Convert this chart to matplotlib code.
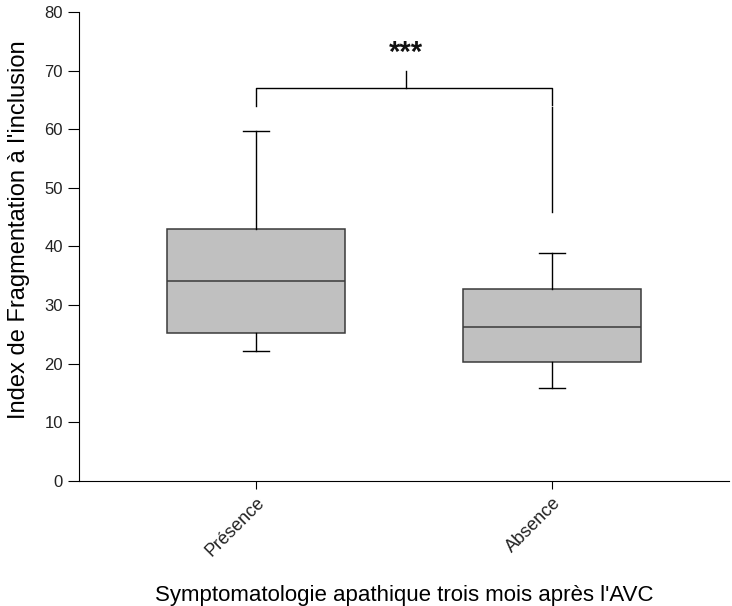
import matplotlib.pyplot as plt

plt.rcParams['font.family'] = ['Liberation Sans', 'DejaVu Sans']

# groups and box statistics
groups = ['Présence', 'Absence']
whisker_low = [22.2, 15.9]
q1 = [25.3, 20.3]
median = [34.1, 26.3]
q3 = [43.0, 32.8]
whisker_high = [59.7, 38.9]

# significance bracket
bracket_y = 67.0
left_leg_end = 63.9
right_leg_end = 45.9
star_tick_top = 70.0
star_label = '***'

fig = plt.figure(figsize=(7.32, 6.06), dpi=100)
ax = fig.add_axes([79 / 732, 1 - 481 / 606, (729 - 79) / 732, (481 - 12) / 606])

stats = []
for i, name in enumerate(groups):
    stats.append({'label': name, 'whislo': whisker_low[i], 'q1': q1[i],
                  'med': median[i], 'q3': q3[i], 'whishi': whisker_high[i],
                  'fliers': []})

positions = [1, 2]
ax.bxp(stats, positions=positions, widths=0.6, patch_artist=True,
       showfliers=False,
       boxprops=dict(facecolor='#c0c0c0', edgecolor='#3a3a3a', linewidth=1.1),
       medianprops=dict(color='#3a3a3a', linewidth=1.1),
       whiskerprops=dict(color='black', linewidth=1.0),
       capprops=dict(color='black', linewidth=1.0), capwidths=0.09)

# bracket
ax.plot([positions[0], positions[0], positions[1], positions[1]],
        [left_leg_end, bracket_y, bracket_y, 64.2], color='black', lw=1.0)
ax.plot([positions[1], positions[1]], [63.8, right_leg_end], color='black', lw=1.0)
mid = 1.508
ax.plot([mid, mid], [bracket_y, star_tick_top], color='black', lw=1.0)
ax.text(mid, 73.0, star_label, ha='center', va='center', fontsize=21,
        fontweight='bold', color='#111111')

ax.set_xlim(1 - (256 - 79) / 296, 2 + (729 - 552) / 296)
ax.set_ylim(0, 80)
ax.set_yticks(range(0, 81, 10))
ax.set_xticks(positions)
ax.set_xticklabels(groups, rotation=45, ha='right', rotation_mode='anchor')

ax.spines['top'].set_visible(False)
ax.spines['right'].set_visible(False)
ax.tick_params(axis='y', length=8, labelsize=12, colors='black', labelcolor='#222222')
ax.tick_params(axis='x', length=6, labelsize=13, labelcolor='#222222')

ax.set_ylabel("Index de Fragmentation à l'inclusion", fontsize=17)
ax.yaxis.set_label_coords((30 - 79) / 650, 0.535)
ax.set_xlabel("Symptomatologie apathique trois mois après l'AVC", fontsize=16, labelpad=18)

fig.savefig('out.png', dpi=100)
